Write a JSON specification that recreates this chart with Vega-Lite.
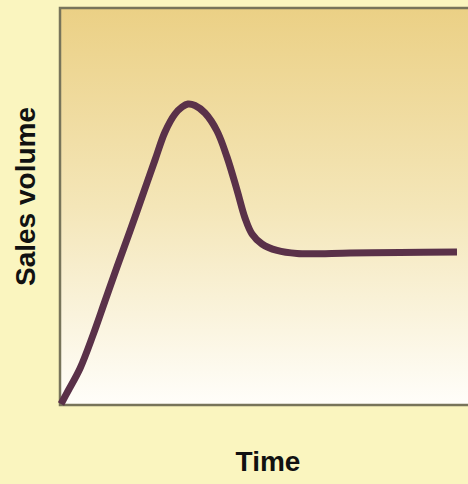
{
  "$schema": "https://vega.github.io/schema/vega-lite/v6.json",
  "width": 415,
  "height": 397,
  "autosize": {"type": "none"},
  "padding": {"left": 60, "top": 8, "right": 0, "bottom": 79},
  "background": "#faf5bf",
  "config": {
    "view": {
      "stroke": "#77745a",
      "strokeWidth": 2.5,
      "fill": {
        "gradient": "linear",
        "x1": 0, "y1": 0, "x2": 0, "y2": 1,
        "stops": [
          {"offset": 0, "color": "#ebd085"},
          {"offset": 0.5, "color": "#f4e6b8"},
          {"offset": 1, "color": "#fffefa"}
        ]
      }
    }
  },
  "data": {
    "values": [
      {"t": 0.24, "v": 0.25},
      {"t": 1.93, "v": 3.53},
      {"t": 4.82, "v": 9.2},
      {"t": 7.95, "v": 17.6},
      {"t": 10.84, "v": 26.2},
      {"t": 13.73, "v": 34.76},
      {"t": 16.87, "v": 43.83},
      {"t": 19.76, "v": 52.39},
      {"t": 22.89, "v": 61.71},
      {"t": 25.3, "v": 68.77},
      {"t": 27.71, "v": 73.3},
      {"t": 29.4, "v": 75.06},
      {"t": 30.84, "v": 75.82},
      {"t": 32.53, "v": 75.44},
      {"t": 34.94, "v": 73.55},
      {"t": 37.83, "v": 69.02},
      {"t": 40.24, "v": 62.47},
      {"t": 42.65, "v": 54.16},
      {"t": 44.58, "v": 47.1},
      {"t": 46.27, "v": 43.07},
      {"t": 48.67, "v": 40.55},
      {"t": 52.29, "v": 38.92},
      {"t": 57.11, "v": 38.16},
      {"t": 69.88, "v": 38.29},
      {"t": 81.93, "v": 38.41},
      {"t": 95.66, "v": 38.54}
    ]
  },
  "mark": {"type": "line", "color": "#5a3149", "strokeWidth": 7, "interpolate": "catmull-rom", "strokeCap": "butt"},
  "encoding": {
    "x": {
      "field": "t", "type": "quantitative",
      "scale": {"domain": [0, 100], "nice": false, "zero": false},
      "axis": {
        "title": "Time", "domain": false, "ticks": false, "labels": false, "grid": false,
        "titleFont": "Liberation Sans", "titleFontSize": 28, "titleFontWeight": "bold",
        "titleColor": "#111111", "titlePadding": 43
      }
    },
    "y": {
      "field": "v", "type": "quantitative",
      "scale": {"domain": [0, 100], "nice": false, "zero": false},
      "axis": {
        "title": "Sales volume", "domain": false, "ticks": false, "labels": false, "grid": false,
        "titleFont": "Liberation Sans", "titleFontSize": 28, "titleFontWeight": "bold",
        "titleColor": "#111111", "titlePadding": 20, "titleY": 188
      }
    }
  }
}
